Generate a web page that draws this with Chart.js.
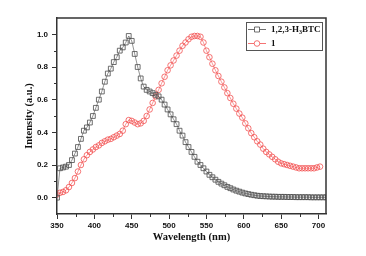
<!DOCTYPE html>
<html>
<head>
<meta charset="utf-8">
<script src="https://cdn.jsdelivr.net/npm/chart.js@4/dist/chart.umd.min.js"></script>
<style>
  html, body { margin: 0; padding: 0; background: #fff; }
  canvas { display: block; }
</style>
</head>
<body>
<canvas id="pl" width="366" height="256"></canvas>
<script>
// wavelength grid (nm)
var wavelengths = [350, 354, 358, 362, 366, 370, 374, 378, 382, 386, 390, 394, 398, 402, 406, 410, 414, 418, 422, 426,
    430, 434, 438, 442, 446, 450, 454, 458, 462, 466, 470, 474, 478, 482, 486, 490, 494, 498, 502, 506,
    510, 514, 518, 522, 526, 530, 534, 538, 542, 546, 550, 554, 558, 562, 566, 570, 574, 578, 582, 586,
    590, 594, 598, 602, 606, 610, 614, 618, 622, 626, 630, 634, 638, 642, 646, 650, 654, 658, 662, 666,
    670, 674, 678, 682, 686, 690, 694, 698, 702, 706, 710];

// 1,2,3-H3BTC (black squares)
var ligand = [0.00, 0.18, 0.185, 0.19, 0.20, 0.23, 0.27, 0.31, 0.36, 0.41, 0.43, 0.46, 0.50, 0.55, 0.60, 0.65, 0.71, 0.76, 0.79, 0.83,
    0.86, 0.90, 0.92, 0.95, 0.99, 0.96, 0.88, 0.80, 0.73, 0.68, 0.66, 0.65, 0.64, 0.63, 0.62, 0.60, 0.57, 0.54, 0.51, 0.48,
    0.45, 0.41, 0.38, 0.34, 0.31, 0.28, 0.25, 0.22, 0.20, 0.18, 0.16, 0.14, 0.125, 0.11, 0.097, 0.086, 0.076, 0.066, 0.058, 0.05,
    0.043, 0.037, 0.031, 0.026, 0.022, 0.018, 0.015, 0.012, 0.010, 0.009, 0.008, 0.007, 0.006, 0.006, 0.005, 0.005, 0.005, 0.004, 0.004, 0.004,
    0.003, 0.003, 0.003, 0.003, 0.003, 0.002, 0.002, 0.002, 0.002, 0.002, 0.002];

// complex 1 (red circles), ends at 702 nm
var complex1 = [0.02, 0.03, 0.035, 0.045, 0.065, 0.09, 0.12, 0.16, 0.20, 0.235, 0.26, 0.28, 0.295, 0.31, 0.32, 0.335, 0.345, 0.355, 0.36, 0.37,
    0.38, 0.39, 0.41, 0.45, 0.475, 0.47, 0.46, 0.45, 0.455, 0.47, 0.50, 0.54, 0.58, 0.62, 0.66, 0.70, 0.74, 0.78, 0.81, 0.84,
    0.87, 0.90, 0.93, 0.95, 0.97, 0.985, 0.99, 0.99, 0.985, 0.95, 0.90, 0.86, 0.82, 0.78, 0.745, 0.71, 0.675, 0.64, 0.61, 0.575,
    0.545, 0.515, 0.49, 0.455, 0.425, 0.395, 0.37, 0.345, 0.325, 0.30, 0.28, 0.265, 0.25, 0.235, 0.22, 0.21, 0.205, 0.20, 0.195, 0.19,
    0.185, 0.18, 0.18, 0.18, 0.18, 0.18, 0.18, 0.185, 0.19];

var seriesNames = ['1,2,3-H3BTC', '1'];
var xTicks = [350, 400, 450, 500, 550, 600, 650, 700];
var xMinor = [375, 425, 475, 525, 575, 625, 675];
var yTicks = [0.0, 0.2, 0.4, 0.6, 0.8, 1.0];
var yMinor = [0.1, 0.3, 0.5, 0.7, 0.9];

var axisCol = '#333';
var blk = '#4a4a4a';
var red = '#f25050';

function pts(vals) {
    return vals.map(function (v, i) { return { x: wavelengths[i], y: v }; });
}

// box round the plot + short minor ticks
var frame = {
    id: 'frame',
    afterDraw: function (chart) {
        var c = chart.ctx, a = chart.chartArea;
        var sx = chart.scales.x, sy = chart.scales.y;
        c.save();
        c.strokeStyle = axisCol;
        c.lineWidth = 1.5;
        c.beginPath();
        c.moveTo(a.left, a.top); c.lineTo(a.right, a.top); c.lineTo(a.right, a.bottom);
        c.stroke();
        c.lineWidth = 1;
        c.beginPath();
        xMinor.forEach(function (v) {
            var px = Math.round(sx.getPixelForValue(v)) + 0.5;
            c.moveTo(px, a.bottom); c.lineTo(px, a.bottom + 3);
        });
        yMinor.forEach(function (v) {
            var py = Math.round(sy.getPixelForValue(v)) + 0.5;
            c.moveTo(a.left, py); c.lineTo(a.left - 3, py);
        });
        c.stroke();
        c.restore();
    }
};

// legend box top right, with the subscript 3
var legendBox = {
    id: 'legendBox',
    afterDraw: function (chart) {
        var c = chart.ctx, a = chart.chartArea;
        var bx = a.right - 80, by = a.top + 4, bw = 76, bh = 28;
        c.save();
        c.strokeStyle = '#555';
        c.lineWidth = 1;
        c.strokeRect(bx + 0.5, by + 0.5, bw, bh);
        chart.data.datasets.forEach(function (ds, i) {
            var y = by + 7.5 + i * 14;
            c.strokeStyle = ds.borderColor;
            c.lineWidth = 0.8;
            c.beginPath();
            c.moveTo(bx + 2, y); c.lineTo(bx + 20, y);
            c.stroke();
            c.fillStyle = '#fff';
            c.beginPath();
            if (ds.pointStyle === 'rect') c.rect(bx + 8.5, y - 2.5, 5, 5);
            else c.arc(bx + 11, y, 2.8, 0, Math.PI * 2);
            c.fill(); c.stroke();
            c.fillStyle = '#111';
            c.textBaseline = 'middle';
            c.font = 'bold 9px "Liberation Serif"';
            var tx = bx + 25;
            if (i === 0) {
                var t1 = '1,2,3-H', t2 = '3', t3 = 'BTC';
                c.fillText(t1, tx, y); tx += c.measureText(t1).width;
                c.font = 'bold 6px "Liberation Serif"';
                c.fillText(t2, tx, y + 3); tx += c.measureText(t2).width;
                c.font = 'bold 9px "Liberation Serif"';
                c.fillText(t3, tx, y);
            } else {
                c.fillText(ds.label, tx, y);
            }
        });
        c.restore();
    }
};

var tickFont = { family: '"Liberation Sans"', size: 8, weight: 'bold' };
var titleFont = { family: '"Liberation Serif"', size: 10.5, weight: 'bold' };

new Chart(document.getElementById('pl').getContext('2d'), {
    type: 'line',
    data: {
        datasets: [{
            label: seriesNames[0],
            data: pts(ligand),
            borderColor: blk,
            borderWidth: 0.6,
            pointStyle: 'rect',
            pointRadius: 3.4,
            pointBorderWidth: 0.8,
            pointBorderColor: blk,
            pointBackgroundColor: 'rgba(0,0,0,0)',
            tension: 0
        }, {
            label: seriesNames[1],
            data: pts(complex1),
            borderColor: red,
            borderWidth: 0.6,
            pointStyle: 'circle',
            pointRadius: 2.8,
            pointBorderWidth: 0.8,
            pointBorderColor: red,
            pointBackgroundColor: 'rgba(0,0,0,0)',
            tension: 0
        }]
    },
    options: {
        responsive: false,
        animation: false,
        devicePixelRatio: 1,
        layout: { padding: { top: 18, right: 40, left: 0, bottom: 0 } },
        plugins: { legend: { display: false }, tooltip: { enabled: false } },
        scales: {
            x: {
                type: 'linear',
                min: 350, max: 710,
                afterBuildTicks: function (s) { s.ticks = xTicks.map(function (v) { return { value: v }; }); },
                afterFit: function (s) { s.height = 42; },
                border: { color: axisCol, width: 1.5 },
                grid: { drawOnChartArea: false, tickLength: 5, tickColor: axisCol, tickWidth: 1 },
                ticks: { color: '#111', font: tickFont, padding: 2, maxRotation: 0 },
                title: { display: true, text: 'Wavelength (nm)', color: '#111', font: titleFont, padding: { top: 0, bottom: 12 } }
            },
            y: {
                min: -0.1, max: 1.1,
                afterBuildTicks: function (s) { s.ticks = yTicks.map(function (v) { return { value: v }; }); },
                afterFit: function (s) { s.width = 57; },
                border: { color: axisCol, width: 1.5 },
                grid: { drawOnChartArea: false, tickLength: 5, tickColor: axisCol, tickWidth: 1 },
                ticks: { color: '#111', font: tickFont, padding: 4, callback: function (v) { return v.toFixed(1); } },
                title: { display: true, text: 'Intensity (a.u.)', color: '#111', font: titleFont, padding: { top: 23, bottom: 0 } }
            }
        }
    },
    plugins: [frame, legendBox]
});
</script>
</body>
</html>
